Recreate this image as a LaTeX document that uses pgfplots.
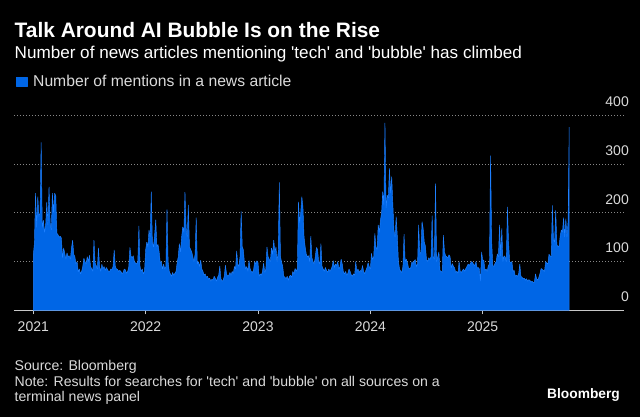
\documentclass[border=0pt]{standalone}
\usepackage{fontspec}
\setmainfont{Liberation Sans}
\usepackage{pgfplots}
\pgfplotsset{compat=1.18}
\definecolor{bfill}{RGB}{0,102,230}
\definecolor{bline}{RGB}{30,128,255}
\definecolor{axisgray}{RGB}{200,200,200}
\definecolor{gridgray}{RGB}{135,135,135}
\definecolor{labelgray}{RGB}{218,218,218}
\begin{document}
\begin{tikzpicture}
\fill[black] (0,0) rectangle (640pt,417pt);
\node[anchor=base west, inner sep=0pt, text=white, font=\fontsize{20.9}{24}\selectfont\bfseries] at (14.5pt,379.5pt) {Talk Around AI Bubble Is on the Rise};
\node[anchor=base west, inner sep=0pt, text=white, font=\fontsize{17.1}{20}\selectfont] at (14.5pt,358.5pt) {Number of news articles mentioning \textquotesingle tech\textquotesingle\ and \textquotesingle bubble\textquotesingle\ has climbed};
\node[anchor=base west, inner sep=0pt, text=labelgray, font=\fontsize{14.1}{16}\selectfont] at (14.5pt,46pt) {Source: Bloomberg};
\node[anchor=base west, inner sep=0pt, text=labelgray, font=\fontsize{14.1}{16}\selectfont] at (14.5pt,30.5pt) {Note: Results for searches for \textquotesingle tech\textquotesingle\ and \textquotesingle bubble\textquotesingle\ on all sources on a};
\node[anchor=base west, inner sep=0pt, text=labelgray, font=\fontsize{14.1}{16}\selectfont] at (14.5pt,15pt) {terminal news panel};
\node[anchor=base east, inner sep=0pt, text=white, font=\fontsize{13.75}{16}\selectfont\bfseries] at (620pt,18.5pt) {Bloomberg};
\begin{axis}[
  at={(14pt,106.5pt)}, anchor=south west,
  scale only axis, width=610pt, height=195.5pt,
  xmin=2020.8282, xmax=2026.2577, ymin=0, ymax=400,
  axis x line*=bottom, axis y line*=right,
  x axis line style={draw=axisgray, line width=0.8pt},
  y axis line style={draw=none},
  xtick={2021,2022,2023,2024,2025},
  xticklabels={2021,2022,2023,2024,2025},
  x tick style={draw=axisgray, line width=0.8pt},
  tick align=outside, major tick length=4pt,
  ytick={0,100,200,300,400},
  y tick style={draw=none},
  ymajorgrids,
  grid style={draw=gridgray, line width=0.7pt, dash pattern=on 1pt off 2pt},
  yticklabel pos=right,
  yticklabel style={anchor=south east, inner sep=0pt, xshift=1pt, yshift=8.3pt},
  xticklabel style={yshift=-4pt},
  tick label style={font=\fontsize{14}{16}\selectfont, text=labelgray},
  /pgf/number format/assume math mode=true,
  legend style={at={(axis description cs:0.0038,1.171)}, anchor=west, draw=none, fill=none, inner sep=0pt, outer sep=0pt, text=labelgray, font=\fontsize{15.7}{18}\selectfont, nodes={inner sep=0pt}},
  legend image code/.code={\fill[bfill] (0pt,-4.7pt) rectangle (10.2pt,4.7pt); \path (16.4pt,0pt);},
]
\addplot[draw=bline, line width=0.45pt, line join=bevel, fill=bfill] table {
x y
2021.00 113
2021.01 138
2021.02 240
2021.03 170
2021.04 233
2021.05 192
2021.06 200
2021.07 344
2021.08 170
2021.09 185
2021.10 160
2021.11 175
2021.12 222
2021.13 175
2021.14 253
2021.15 180
2021.16 165
2021.17 240
2021.18 200
2021.19 240
2021.20 235
2021.21 158
2021.22 155
2021.23 150
2021.24 152
2021.25 148
2021.26 108
2021.27 128
2021.28 117
2021.29 105
2021.30 118
2021.31 110
2021.32 112
2021.33 105
2021.34 128
2021.35 144
2021.36 115
2021.37 110
2021.38 95
2021.39 100
2021.40 79
2021.41 85
2021.42 75
2021.43 80
2021.44 90
2021.45 107
2021.46 100
2021.47 95
2021.48 110
2021.49 100
2021.50 113
2021.51 90
2021.52 85
2021.53 80
2021.54 144
2021.55 97
2021.56 92
2021.57 85
2021.58 128
2021.59 90
2021.60 80
2021.61 95
2021.62 85
2021.63 90
2021.64 82
2021.65 88
2021.66 84
2021.67 80
2021.68 80
2021.69 85
2021.70 84
2021.71 90
2021.72 124
2021.73 90
2021.74 85
2021.75 84
2021.76 80
2021.77 82
2021.78 80
2021.79 75
2021.80 78
2021.81 85
2021.82 83
2021.83 76
2021.84 80
2021.85 90
2021.86 129
2021.87 111
2021.88 108
2021.89 112
2021.90 100
2021.91 97
2021.92 95
2021.93 100
2021.94 173
2021.95 90
2021.96 80
2021.97 85
2021.98 75
2021.99 80
2022.00 124
2022.01 140
2022.02 130
2022.03 165
2022.04 150
2022.05 243
2022.06 140
2022.07 130
2022.08 155
2022.09 186
2022.10 130
2022.11 135
2022.12 120
2022.13 98
2022.14 100
2022.15 85
2022.16 95
2022.17 85
2022.18 90
2022.19 207
2022.20 100
2022.21 80
2022.22 75
2022.23 70
2022.24 78
2022.25 72
2022.26 76
2022.27 80
2022.28 97
2022.29 110
2022.30 137
2022.31 120
2022.32 150
2022.33 171
2022.34 160
2022.35 242
2022.36 171
2022.37 150
2022.38 216
2022.39 130
2022.40 125
2022.41 120
2022.42 110
2022.43 100
2022.44 115
2022.45 190
2022.46 95
2022.47 100
2022.48 90
2022.49 103
2022.50 85
2022.51 80
2022.52 72
2022.53 75
2022.54 68
2022.55 70
2022.56 64
2022.57 66
2022.58 60
2022.59 64
2022.60 62
2022.61 70
2022.62 66
2022.63 60
2022.64 68
2022.65 72
2022.66 91
2022.67 65
2022.68 60
2022.69 62
2022.70 70
2022.71 93
2022.72 75
2022.73 70
2022.74 72
2022.75 78
2022.76 72
2022.77 80
2022.78 76
2022.79 90
2022.80 85
2022.81 122
2022.82 95
2022.83 90
2022.84 110
2022.85 203
2022.86 130
2022.87 124
2022.88 95
2022.89 85
2022.90 90
2022.91 80
2022.92 102
2022.93 85
2022.94 80
2022.95 78
2022.96 82
2022.97 100
2022.98 95
2022.99 102
2023.00 98
2023.01 70
2023.02 75
2023.03 72
2023.04 80
2023.05 97
2023.06 78
2023.07 85
2023.08 130
2023.09 110
2023.10 105
2023.11 100
2023.12 128
2023.13 115
2023.14 144
2023.15 120
2023.16 130
2023.17 100
2023.18 120
2023.19 262
2023.20 110
2023.21 99
2023.22 90
2023.23 70
2023.24 68
2023.25 65
2023.26 70
2023.27 62
2023.28 70
2023.29 72
2023.30 68
2023.31 80
2023.32 75
2023.33 86
2023.34 80
2023.35 86
2023.36 222
2023.37 180
2023.38 200
2023.39 233
2023.40 212
2023.41 150
2023.42 130
2023.43 115
2023.44 110
2023.45 112
2023.46 100
2023.47 152
2023.48 108
2023.49 100
2023.50 95
2023.51 110
2023.52 129
2023.53 125
2023.54 100
2023.55 95
2023.56 137
2023.57 90
2023.58 85
2023.59 80
2023.60 88
2023.61 82
2023.62 78
2023.63 85
2023.64 80
2023.65 84
2023.66 90
2023.67 102
2023.68 88
2023.69 95
2023.70 92
2023.71 100
2023.72 85
2023.73 90
2023.74 105
2023.75 95
2023.76 79
2023.77 75
2023.78 80
2023.79 72
2023.80 76
2023.81 85
2023.82 80
2023.83 73
2023.84 70
2023.85 75
2023.86 72
2023.87 100
2023.88 80
2023.89 85
2023.90 78
2023.91 82
2023.92 80
2023.93 92
2023.94 80
2023.95 75
2023.96 82
2023.97 88
2023.98 98
2023.99 90
2024.00 85
2024.01 117
2024.02 104
2024.03 110
2024.04 158
2024.05 129
2024.06 125
2024.07 175
2024.08 160
2024.09 185
2024.10 200
2024.11 243
2024.12 215
2024.13 384
2024.14 210
2024.15 236
2024.16 230
2024.17 291
2024.18 240
2024.19 274
2024.20 219
2024.21 165
2024.22 150
2024.23 192
2024.24 152
2024.25 100
2024.26 85
2024.27 80
2024.28 78
2024.29 90
2024.30 156
2024.31 100
2024.32 105
2024.33 98
2024.34 87
2024.35 85
2024.36 88
2024.37 100
2024.38 95
2024.39 102
2024.40 104
2024.41 90
2024.42 95
2024.43 175
2024.44 115
2024.45 120
2024.46 182
2024.47 168
2024.48 140
2024.49 132
2024.50 104
2024.51 100
2024.52 108
2024.53 104
2024.54 110
2024.55 194
2024.56 110
2024.57 105
2024.58 260
2024.59 100
2024.60 110
2024.61 120
2024.62 82
2024.63 80
2024.64 78
2024.65 154
2024.66 120
2024.67 112
2024.68 110
2024.69 108
2024.70 114
2024.71 110
2024.72 87
2024.73 96
2024.74 90
2024.75 87
2024.76 78
2024.77 80
2024.78 76
2024.79 100
2024.80 80
2024.81 78
2024.82 82
2024.83 85
2024.84 80
2024.85 86
2024.86 90
2024.87 95
2024.88 92
2024.89 96
2024.90 100
2024.91 98
2024.92 94
2024.93 92
2024.94 100
2024.95 87
2024.96 88
2024.97 85
2024.98 60
2024.99 120
2025.00 103
2025.01 103
2025.02 82
2025.03 85
2025.04 80
2025.05 92
2025.06 95
2025.07 317
2025.08 140
2025.09 92
2025.10 90
2025.11 97
2025.12 100
2025.13 116
2025.14 110
2025.15 175
2025.16 112
2025.17 168
2025.18 100
2025.19 112
2025.20 110
2025.21 100
2025.22 212
2025.23 140
2025.24 100
2025.25 98
2025.26 100
2025.27 80
2025.28 82
2025.29 70
2025.30 72
2025.31 70
2025.32 75
2025.33 95
2025.34 70
2025.35 68
2025.36 65
2025.37 66
2025.38 62
2025.39 65
2025.40 60
2025.41 63
2025.42 62
2025.43 58
2025.44 60
2025.45 57
2025.46 58
2025.47 75
2025.48 65
2025.49 62
2025.50 68
2025.51 76
2025.52 86
2025.53 84
2025.54 82
2025.55 80
2025.56 100
2025.57 97
2025.58 95
2025.59 115
2025.60 112
2025.61 110
2025.62 215
2025.63 145
2025.64 140
2025.65 205
2025.66 135
2025.67 130
2025.68 132
2025.69 153
2025.70 165
2025.71 160
2025.72 190
2025.73 150
2025.74 188
2025.75 150
2025.76 182
2025.77 375
} \closedcycle;
\addlegendentry{Number of mentions in a news article}
\end{axis}
\end{tikzpicture}
\end{document}
